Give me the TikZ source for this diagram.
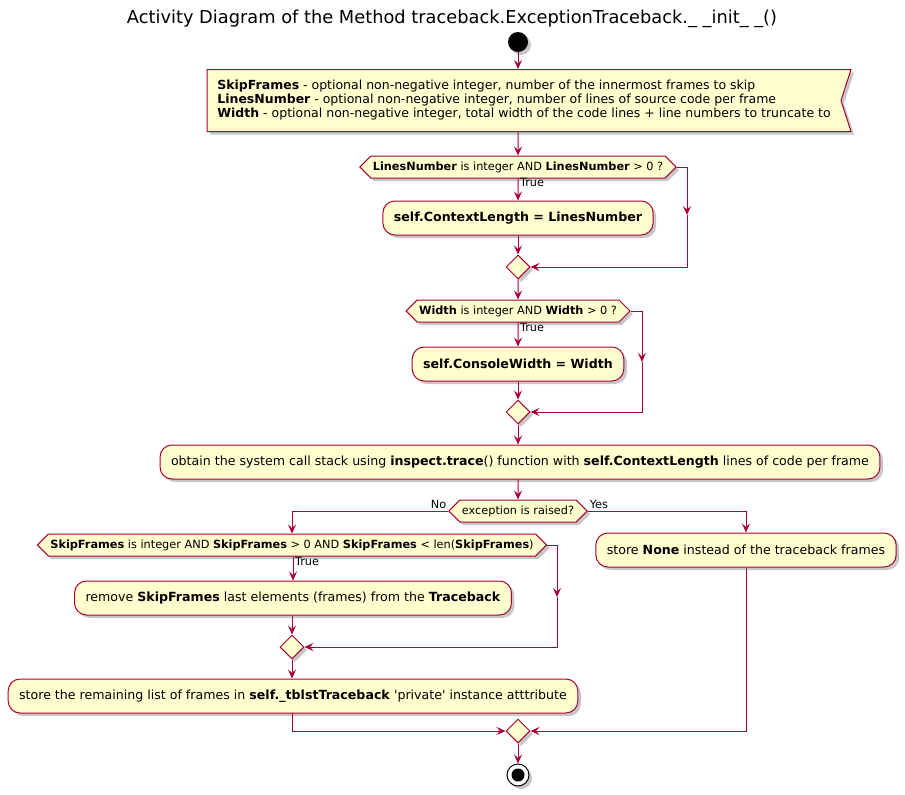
\documentclass[tikz,border=0pt]{standalone}
\usepackage{fontspec}
\setmainfont{DejaVu Sans}
\usetikzlibrary{shapes.geometric, shapes.symbols, arrows.meta, shadows, calc}
\definecolor{umlred}{HTML}{A80036}
\definecolor{umlfill}{HTML}{FEFECE}

\begin{document}
\begin{tikzpicture}[x=1pt, y=-1pt,
            umlshadow/.style={drop shadow={shadow xshift=3pt, shadow yshift=-3pt, fill=black, opacity=0.22}},
            act/.style={rectangle, rounded corners=12pt, draw=umlred, line width=1pt, fill=umlfill, minimum height=34pt, inner xsep=11pt, font=\fontsize{12.6}{14}\selectfont, umlshadow},
            cond/.style={signal, signal to=east and west, signal pointer angle=90, draw=umlred, line width=1pt, fill=umlfill, minimum height=22pt, inner xsep=2pt, inner ysep=2pt, font=\fontsize{11.3}{13}\selectfont, umlshadow},
            merge/.style={diamond, draw=umlred, line width=1pt, fill=umlfill, minimum size=24pt, inner sep=0pt, umlshadow},
            lbl/.style={font=\fontsize{11.3}{13}\selectfont, inner sep=1.5pt},
            arrow/.style={-{Stealth[length=9pt, width=8pt, inset=3.5pt]}, draw=umlred, line width=1pt}
        ]
\useasboundingbox (0,0) rectangle (905,795);

% title and start
            \node[font=\fontsize{17.8}{20}\selectfont] (title) at (452,19) {Activity Diagram of the Method traceback.ExceptionTraceback.\_ \_init\_ \_()};
            \node[circle, fill=black, minimum size=20pt, inner sep=0pt, umlshadow] (start) at (518,42) {};

% input parameters
            \node[signal, signal to=nowhere, signal from=east, signal pointer angle=144, draw=umlred, line width=1pt, fill=umlfill, minimum width=644pt, minimum height=62pt, align=left, font=\fontsize{12.5}{14}\selectfont, umlshadow] (params) at (524,100.5) {\textbf{SkipFrames} - optional non-negative integer, number of the innermost frames to skip\\\textbf{LinesNumber} - optional non-negative integer, number of lines of source code per frame\\\textbf{Width} - optional non-negative integer, total width of the code lines + line numbers to truncate to};

% LinesNumber check
            \node[cond] (chk1) at (518,167) {\textbf{LinesNumber} is integer AND \textbf{LinesNumber} > 0 ?};
            \node[act] (ctx) at (518,218) {\textbf{self.ContextLength = LinesNumber}};
            \node[merge] (merge1) at (518,267) {};
            \coordinate (skip1) at (687,215);

% Width check
            \node[cond] (chk2) at (518,311) {\textbf{Width} is integer AND \textbf{Width} > 0 ?};
            \node[act] (cw) at (518,364) {\textbf{self.ConsoleWidth = Width}};
            \node[merge] (merge2) at (518,412) {};
            \coordinate (skip2) at (642,362);

% call stack
            \node[act] (stack) at (520,462) {obtain the system call stack using \textbf{inspect.trace}() function with \textbf{self.ContextLength} lines of code per frame};
            \node[cond] (raised) at (518,511) {exception is raised?};
            \node[act] (none) at (746,550) {store \textbf{None} instead of the traceback frames};

% SkipFrames check
            \node[cond] (chk4) at (292,545) {\textbf{SkipFrames} is integer AND \textbf{SkipFrames} > 0 AND \textbf{SkipFrames} < len(\textbf{SkipFrames})};
            \node[act] (trim) at (293,598) {remove \textbf{SkipFrames} last elements (frames) from the \textbf{Traceback}};
            \node[merge] (merge3) at (292,647) {};
            \coordinate (skip4) at (557,597);
            \node[act] (store) at (293,696) {store the remaining list of frames in \textbf{self.\_tblstTraceback} \textquotesingle private\textquotesingle{} instance atttribute};

% end
            \node[merge] (merge4) at (518,731) {};
            \node[circle, draw=black, line width=1pt, fill=white, minimum size=22pt, inner sep=0pt, umlshadow, path picture={\fill[black] (path picture bounding box.center) circle (6.5pt);}] (stop) at (518,775) {};

% flow
            \draw[arrow] (start) -- (start |- params.north);
            \draw[arrow] (params.south -| start) -- (chk1);
            \draw[arrow] (chk1) -- node[lbl, pos=0.2, anchor=west] {True} (ctx);
            \draw[arrow] (ctx) -- (merge1);
            \draw[arrow] (chk1.east) -| (skip1);
            \draw[arrow] (skip1) |- (merge1.east);
            \draw[arrow] (merge1) -- (chk2);
            \draw[arrow] (chk2) -- node[lbl, pos=0.2, anchor=west] {True} (cw);
            \draw[arrow] (cw) -- (merge2);
            \draw[arrow] (chk2.east) -| (skip2);
            \draw[arrow] (skip2) |- (merge2.east);
            \draw[arrow] (merge2) -- (stack.north -| merge2);
            \draw[arrow] (stack.south -| raised) -- (raised);
            \draw[arrow] (raised.west) node[lbl, anchor=south east] {No} -| (chk4.north);
            \draw[arrow] (raised.east) node[lbl, anchor=south west] {Yes} -| (none.north);
            \draw[arrow] (chk4.south -| trim) -- node[lbl, pos=0.2, anchor=west] {True} (trim.north);
            \draw[arrow] (trim.south -| merge3) -- (merge3);
            \draw[arrow] (chk4.east) -| (skip4);
            \draw[arrow] (skip4) |- (merge3.east);
            \draw[arrow] (merge3) -- (store.north -| merge3);
            \draw[arrow] (store.south -| merge3) |- (merge4.west);
            \draw[arrow] (none.south) |- (merge4.east);
            \draw[arrow] (merge4) -- (stop);

        \end{tikzpicture}
\end{document}
